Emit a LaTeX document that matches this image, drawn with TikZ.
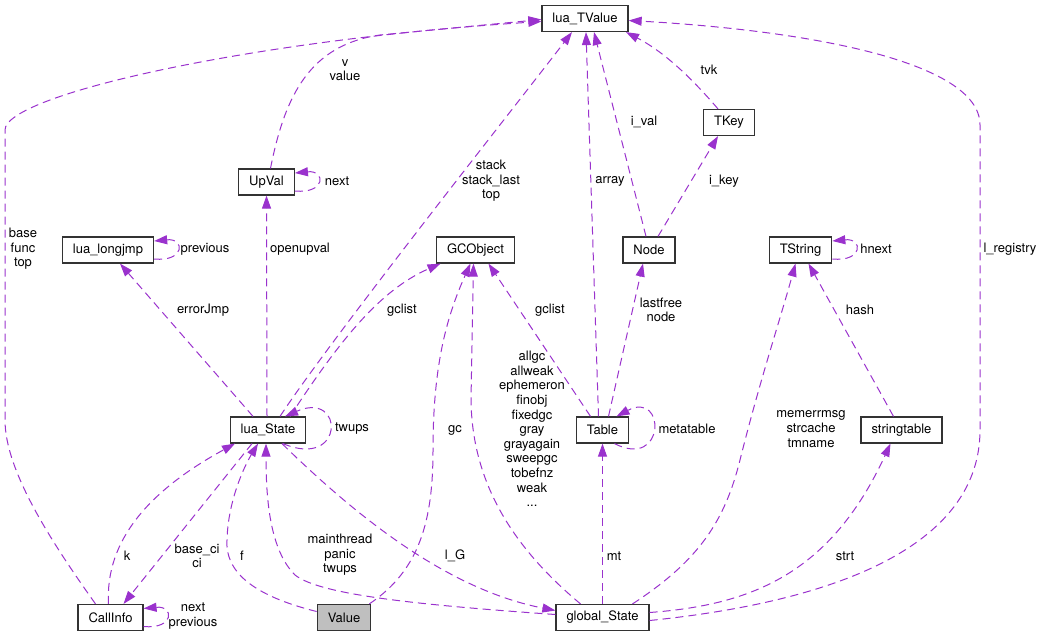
\documentclass[tikz,border=0pt]{standalone}
\usepackage{fontspec}
\setmainfont{TeX Gyre Heros}
\usepackage{tikz}
\usetikzlibrary{arrows.meta}
\usepackage{xcolor}
\definecolor{memberpurple}{HTML}{9A32CD}
\definecolor{focusgray}{HTML}{BFBFBF}

\begin{document}
\begin{tikzpicture}[x=1pt, y=-1pt,
    every node/.style={font=\fontsize{13}{14.6}\selectfont},
    struct/.style={draw=black!80, line width=1.2pt, rectangle, minimum height=26pt, inner xsep=10.5pt, inner ysep=0pt},
    memlabel/.style={align=center, inner sep=0pt},
    member/.style={->, memberpurple, line width=1pt, dash pattern=on 8pt off 5pt, >={Triangle[length=13pt,width=9pt]}}]
    \useasboundingbox (0,0) rectangle (1044,637);

    % Structs
    \node[struct] (tvalue) at (585,18.5) {lua\_TValue};
    \node[struct] (tkey) at (729,122.5) {TKey};
    \node[struct] (upval) at (266.5,182) {UpVal};
    \node[struct] (longjmp) at (108,250) {lua\_longjmp};
    \node[struct] (gcobject) at (475.5,250) {GCObject};
    \node[struct] (node) at (649,250) {Node};
    \node[struct] (tstring) at (800.5,250) {TString};
    \node[struct] (luastate) at (268,430) {lua\_State};
    \node[struct] (table) at (602.5,430) {Table};
    \node[struct] (stringtable) at (901.5,430) {stringtable};
    \node[struct] (callinfo) at (110.5,617.5) {CallInfo};
    \node[struct, fill=focusgray] (value) at (344,617.5) {Value};
    \node[struct] (globalstate) at (602.5,617.5) {global\_State};

    % Into lua_TValue
    \draw[member] ([xshift=-15pt]callinfo.north) .. controls (50,540) and (5,470) .. (5,420)
        -- (5,130) .. controls (5,95) and (250,40) .. ([yshift=-3pt]tvalue.west);
    \node[memlabel] (lbase) at (23,249) {base\\func\\top};
    \draw[member] ([xshift=4pt]upval.north) .. controls (285,95) and (310,45) .. (380,35)
        -- ([yshift=-1pt]tvalue.west);
    \node[memlabel] (lv) at (345,70) {v\\value};
    \draw[member] ([xshift=12pt]luastate.north) .. controls (330,340) and (520,100) .. ([xshift=-13pt]tvalue.south);
    \node[memlabel] (lstack) at (491,181) {stack\\stack\_last\\top};
    \draw[member] ([xshift=-4pt]table.north) -- ([xshift=1pt]tvalue.south);
    \node[memlabel] (larray) at (610,181) {array};
    \draw[member] ([xshift=-3pt]node.north) -- ([xshift=9pt]tvalue.south);
    \node[memlabel] (lival) at (644,122) {i\_val};
    \draw[member] ([xshift=-11pt]tkey.north) .. controls (700,88) and (670,55) .. ([xshift=41pt]tvalue.south);
    \node[memlabel] (ltvk) at (709,70) {tvk};
    \draw[member] ([yshift=-3pt]globalstate.east) .. controls (850,600) and (980,540) .. (980,430)
        -- (980,125) .. controls (980,60) and (800,30) .. ([yshift=-2pt]tvalue.east);
    \node[memlabel] (lregistry) at (1010,249) {l\_registry};

    % Self references
    \draw[member] ([yshift=-9pt]upval.east) .. controls +(31,3) and +(31,-3) .. ([yshift=9pt]upval.east);
    \node[memlabel] (lnext) at (337,181) {next};
    \draw[member] ([yshift=-9pt]longjmp.east) .. controls +(31,3) and +(31,-3) .. ([yshift=9pt]longjmp.east);
    \node[memlabel] (lprev) at (205,249) {previous};
    \draw[member] ([yshift=-9pt]tstring.east) .. controls +(31,3) and +(31,-3) .. ([yshift=9pt]tstring.east);
    \node[memlabel] (lhnext) at (876,249) {hnext};
    \draw[member] ([yshift=-9pt]callinfo.east) .. controls +(31,3) and +(31,-3) .. ([yshift=9pt]callinfo.east);
    \node[memlabel] (lcinext) at (193,616) {next\\previous};
    \draw[member] ([xshift=15pt]luastate.south) .. controls (345,470) and (345,390) .. ([xshift=17pt]luastate.north);
    \node[memlabel] (ltwups) at (352,429) {twups};
    \draw[member] ([xshift=12pt]table.south) .. controls (666,470) and (666,390) .. ([xshift=14pt]table.north);
    \node[memlabel] (lmeta) at (687,429) {metatable};

    % From lua_State
    \draw[member] ([xshift=-15pt]luastate.north) -- ([xshift=12pt]longjmp.south);
    \node[memlabel] (lerr) at (203,310) {errorJmp};
    \draw[member] ([xshift=-1pt]luastate.north) -- (upval.south);
    \node[memlabel] (lopen) at (300,249) {openupval};
    \draw[member] ([xshift=22pt]luastate.north) .. controls (340,340) and (380,290) .. ([xshift=-35pt]gcobject.south);
    \node[memlabel] (lgclist) at (402,310) {gclist};
    \draw[member] ([xshift=-16pt]luastate.south) -- ([xshift=13pt]callinfo.north);
    \node[memlabel] (lbaseci) at (197,556) {base\_ci\\ci};
    \draw[member] ([xshift=14pt]luastate.south) .. controls (360,520) and (450,590) .. ([yshift=7pt]globalstate.west);
    \node[memlabel] (lg) at (455,556) {l\_G};

    % Into lua_State
    \draw[member] ([xshift=-2pt]callinfo.north) .. controls (105,540) and (150,490) .. ([xshift=-33pt]luastate.south);
    \node[memlabel] (lk) at (127,556) {k};
    \draw[member] ([yshift=6pt]value.west) .. controls (250,595) and (225,570) .. (227,540)
        .. controls (228,500) and (245,465) .. ([xshift=-10pt]luastate.south);
    \node[memlabel] (lf) at (242,556) {f};
    \draw[member] ([yshift=3pt]globalstate.west) .. controls (420,605) and (320,595) .. (295,575)
        .. controls (270,550) and (266,500) .. ([xshift=-2pt]luastate.south);
    \node[memlabel] (lmain) at (340,555) {mainthread\\panic\\twups};

    % Into GCObject
    \draw[member] ([xshift=-2pt]value.north east) .. controls (420,570) and (433,520) .. (433,450)
        .. controls (433,370) and (445,320) .. ([xshift=-5pt]gcobject.south);
    \node[memlabel] (lgc) at (455,430) {gc};
    \draw[member] ([xshift=-22pt]globalstate.north) .. controls (510,545) and (472,480) .. (471,400)
        -- ([xshift=-2pt]gcobject.south);
    \node[memlabel] (lallgc) at (532,429) {allgc\\allweak\\ephemeron\\finobj\\fixedgc\\gray\\grayagain\\sweepgc\\tobefnz\\weak\\...};
    \draw[member] ([xshift=-12pt]table.north) -- ([xshift=13pt]gcobject.south);
    \node[memlabel] (lgclist2) at (550,310) {gclist};

    % Table, Node, TKey
    \draw[member] ([xshift=6pt]table.north) -- ([xshift=-6pt]node.south);
    \node[memlabel] (llast) at (661,310) {lastfree\\node};
    \draw[member] ([xshift=9pt]node.north) -- ([xshift=-11pt]tkey.south);
    \node[memlabel] (likey) at (724,181) {i\_key};
    \draw[member] (globalstate.north) -- (table.south);
    \node[memlabel] (lmt) at (614,556) {mt};

    % Strings
    \draw[member] ([xshift=30pt]globalstate.north) .. controls (700,560) and (725,520) .. (740,460)
        .. controls (760,380) and (780,320) .. ([xshift=-5pt]tstring.south);
    \node[memlabel] (lmem) at (811,429) {memerrmsg\\strcache\\tmname};
    \draw[member] ([xshift=-8pt]stringtable.north) -- ([xshift=8pt]tstring.south);
    \node[memlabel] (lhash) at (860,310) {hash};
    \draw[member] ([yshift=5pt]globalstate.east) .. controls (750,605) and (830,575) .. ([xshift=-11pt]stringtable.south);
    \node[memlabel] (lstrt) at (845,556) {strt};
\end{tikzpicture}
\end{document}
